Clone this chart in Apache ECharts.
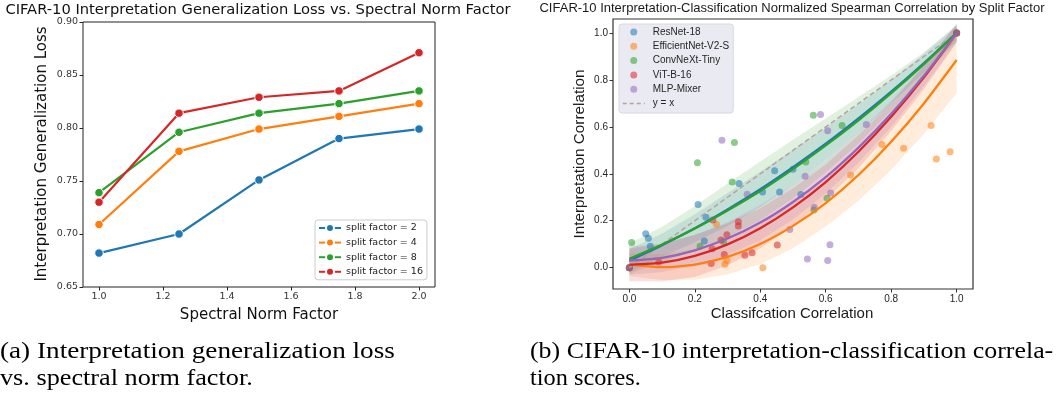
<!DOCTYPE html>
<html><head><meta charset="utf-8">
<script src="https://cdn.jsdelivr.net/npm/echarts@6/dist/echarts.min.js"></script>
<style>html,body{margin:0;padding:0;background:#fff;}#c{width:1058px;height:400px;}</style>
</head><body><div id="c"></div>
<script>
// ---------- (a) left chart data ----------
const spectralFactors = [1.0, 1.25, 1.5, 1.75, 2.0];
const lossSplit2  = [0.682, 0.700, 0.751, 0.790, 0.799];
const lossSplit4  = [0.709, 0.778, 0.799, 0.811, 0.823];
const lossSplit8  = [0.739, 0.796, 0.814, 0.823, 0.835];
const lossSplit16 = [0.730, 0.814, 0.829, 0.835, 0.871];
const leftXTicks = [1.0, 1.2, 1.4, 1.6, 1.8, 2.0];
const leftYTicks = [0.65, 0.70, 0.75, 0.80, 0.85, 0.90];

// ---------- (b) right chart data ----------
const resnetPts = [[0,0],[0.05,0.145],[0.058,0.125],[0.064,0.091],[0.21,0.269],[0.234,0.215],[0.229,0.114],[0.335,0.359],[0.407,0.322],[0.444,0.413],[0.459,0.322],[0.5,0.42],[0.524,0.312],[1,1]];
const effnetPts = [[0,0],[0.266,0.185],[0.292,0.015],[0.298,0.03],[0.408,0.0],[0.676,0.395],[0.772,0.525],[0.838,0.509],[0.922,0.606],[0.938,0.463],[0.98,0.494],[1,1]];
const convnextPts = [[0,0],[0.007,0.107],[0.208,0.447],[0.216,0.091],[0.288,0.11],[0.314,0.365],[0.321,0.533],[0.539,0.45],[0.562,0.65],[0.564,0.246],[0.604,0.296],[0.65,0.606],[1,1]];
const vitPts = [[0,0],[0.09,0.024],[0.25,0.018],[0.253,0.081],[0.255,0.203],[0.28,0.118],[0.29,0.056],[0.298,0.14],[0.333,0.196],[0.333,0.178],[0.353,0.053],[0.375,0.063],[0.452,0.097],[1,1]];
const mlpPts = [[0,0],[0.283,0.543],[0.36,0.313],[0.49,0.163],[0.537,0.39],[0.544,0.037],[0.565,0.257],[0.584,0.653],[0.606,0.584],[0.606,0.031],[0.613,0.098],[0.615,0.318],[0.724,0.61],[1,1]];

const fitX = [0,0.1,0.2,0.3,0.4,0.5,0.6,0.7,0.8,0.9,1.0];
const resnetFit = [0.030,0.096,0.168,0.248,0.334,0.428,0.528,0.636,0.750,0.872,1.000];
const resnetHi  = [0.080,0.146,0.228,0.318,0.409,0.503,0.598,0.696,0.800,0.912,1.030];
const resnetLo  = [-0.020,0.046,0.108,0.178,0.259,0.353,0.458,0.576,0.700,0.832,0.970];
const effnetFit = [0.013,0.002,0.013,0.046,0.101,0.178,0.275,0.395,0.537,0.700,0.885];
const effnetHi  = [0.063,0.057,0.078,0.121,0.186,0.273,0.375,0.505,0.657,0.830,1.025];
const effnetLo  = [-0.037,-0.053,-0.052,-0.029,0.016,0.083,0.175,0.285,0.417,0.570,0.745];
const convnextFit = [0.038,0.099,0.167,0.244,0.327,0.420,0.521,0.628,0.744,0.868,1.000];
const convnextHi  = [0.103,0.174,0.262,0.359,0.452,0.545,0.636,0.728,0.819,0.918,1.035];
const convnextLo  = [-0.027,0.024,0.072,0.129,0.202,0.295,0.406,0.528,0.669,0.818,0.965];
const vitFit = [0.012,0.021,0.050,0.099,0.168,0.257,0.365,0.494,0.643,0.811,1.000];
const vitHi  = [0.082,0.101,0.140,0.189,0.253,0.337,0.440,0.564,0.703,0.861,1.040];
const vitLo  = [-0.058,-0.059,-0.040,0.009,0.083,0.177,0.290,0.424,0.583,0.761,0.960];
const mlpFit = [0.030,0.042,0.074,0.124,0.192,0.280,0.386,0.512,0.656,0.818,1.000];
const mlpHi  = [0.090,0.102,0.139,0.194,0.267,0.355,0.456,0.577,0.711,0.863,1.040];
const mlpLo  = [-0.030,-0.018,0.009,0.054,0.117,0.205,0.316,0.447,0.601,0.773,0.960];
const identityX = [0, 1];
const identityY = [0, 1];
const rightTicks = [0.0, 0.2, 0.4, 0.6, 0.8, 1.0];

const C = {blue:'#1f77b4', orange:'#ff7f0e', green:'#2ca02c', red:'#d62728', purple:'#9467bd'};
const LF = 'DejaVu Sans';
const RF = 'Liberation Sans';

const zip = (xs, ys) => xs.map((x, i) => [x, ys[i]]);

const leftSeries = [
  ['split factor = 2', lossSplit2, C.blue],
  ['split factor = 4', lossSplit4, C.orange],
  ['split factor = 8', lossSplit8, C.green],
  ['split factor = 16', lossSplit16, C.red]
].map(([name, ys, color]) => ({
  name, type:'line', xAxisIndex:0, yAxisIndex:0,
  data: zip(spectralFactors, ys),
  symbol:'circle', symbolSize:8.5, showSymbol:true,
  lineStyle:{width:2.2, color},
  itemStyle:{color, borderColor:'#fff', borderWidth:1},
  emphasis:{disabled:true}, animation:false
}));

function band(name, lo, hi, color) {
  return {
    name, type:'custom', xAxisIndex:1, yAxisIndex:1, silent:true, animation:false,
    data:[[0.5, 0.5]],
    renderItem: function (params, api) {
      const pts = [];
      for (let i = 0; i < fitX.length; i++) pts.push(api.coord([fitX[i], hi[i]]));
      for (let i = fitX.length - 1; i >= 0; i--) pts.push(api.coord([fitX[i], lo[i]]));
      return {type:'polygon', shape:{points:pts}, style:{fill:color, opacity:0.15}};
    }
  };
}

const models = [
  ['ResNet-18', resnetPts, resnetFit, resnetLo, resnetHi, C.blue],
  ['EfficientNet-V2-S', effnetPts, effnetFit, effnetLo, effnetHi, C.orange],
  ['ConvNeXt-Tiny', convnextPts, convnextFit, convnextLo, convnextHi, C.green],
  ['ViT-B-16', vitPts, vitFit, vitLo, vitHi, C.red],
  ['MLP-Mixer', mlpPts, mlpFit, mlpLo, mlpHi, C.purple]
];

const rightSeries = [{
  name:'y = x', type:'line', xAxisIndex:1, yAxisIndex:1,
  data: zip(identityX, identityY), symbol:'none',
  lineStyle:{type:[5,3], width:1.5, color:'#b9a1a1'}, itemStyle:{color:'#b9a1a1'},
  silent:true, animation:false
}];
models.forEach(([name, pts, fit, lo, hi, color]) => {
  rightSeries.push({
    name, type:'scatter', xAxisIndex:1, yAxisIndex:1, data: pts,
    symbol:'circle', symbolSize:7, itemStyle:{color, opacity:0.55},
    silent:true, animation:false
  });
  rightSeries.push({
    name: name + ' fit', type:'line', xAxisIndex:1, yAxisIndex:1,
    data: zip(fitX, fit), symbol:'none', smooth:0.2,
    lineStyle:{width:2.3, color}, silent:true, animation:false
  });
  rightSeries.push(band(name + ' ci', lo, hi, color));
});

function txt(x, y, text, font, fill, align, rot, sx) {
  return {type:'text', x, y, rotation:rot || 0, scaleX: sx || 1,
    style:{text, font, fill, align, verticalAlign:'middle', textAlign:align, textVerticalAlign:'middle'}};
}

const chart = echarts.init(document.getElementById('c'), null, {renderer:'canvas'});
chart.setOption({
  animation:false,
  backgroundColor:'#ffffff',
  grid:[
    {left:83, top:22, width:352, height:265, show:true, borderColor:'#222', borderWidth:1, backgroundColor:'transparent'},
    {left:613, top:19, width:360, height:270, show:true, borderColor:'#333', borderWidth:1.2, backgroundColor:'transparent'}
  ],
  xAxis:[
    {gridIndex:0, type:'value', min:0.95, max:2.05, splitLine:{show:false}, axisLine:{show:false, onZero:false},
     axisTick:{show:true, customValues:leftXTicks, length:3.5, lineStyle:{color:'#222'}},
     axisLabel:{customValues:leftXTicks, formatter:v=>v.toFixed(1), fontFamily:LF, fontSize:9.5, color:'#333', margin:5}},
    {gridIndex:1, type:'value', min:-0.05, max:1.05, splitLine:{show:false}, axisLine:{show:false, onZero:false},
     axisTick:{show:true, customValues:rightTicks, length:3.5, lineStyle:{color:'#333'}},
     axisLabel:{customValues:rightTicks, formatter:v=>v.toFixed(1), fontFamily:RF, fontSize:10, color:'#262626', margin:5}}
  ],
  yAxis:[
    {gridIndex:0, type:'value', min:0.65, max:0.90, splitLine:{show:false}, axisLine:{show:false, onZero:false},
     axisTick:{show:true, customValues:leftYTicks, length:3.5, lineStyle:{color:'#222'}},
     axisLabel:{customValues:leftYTicks, formatter:v=>v.toFixed(2), fontFamily:LF, fontSize:9.5, color:'#333', margin:5}},
    {gridIndex:1, type:'value', min:-0.091, max:1.06, splitLine:{show:false}, axisLine:{show:false, onZero:false},
     axisTick:{show:true, customValues:rightTicks, length:3.5, lineStyle:{color:'#333'}},
     axisLabel:{customValues:rightTicks, formatter:v=>v.toFixed(1), fontFamily:RF, fontSize:10, color:'#262626', margin:5}}
  ],
  legend:[
    {left:315, top:220, orient:'vertical', itemWidth:22, itemHeight:10, itemGap:4.6,
     padding:[3,4,3,3], backgroundColor:'rgba(255,255,255,0.8)', borderColor:'#cccccc', borderWidth:1, borderRadius:3,
     textStyle:{fontFamily:LF, fontSize:9.5, color:'#222'},
     data:['split factor = 2','split factor = 4','split factor = 8','split factor = 16'],
     selectedMode:false},
    {left:619, top:24, orient:'vertical', itemWidth:22, itemHeight:7, itemGap:4.3,
     padding:[3,4,4.5,3], backgroundColor:'#eaeaf2', borderColor:'#d8d8e0', borderWidth:1, borderRadius:3,
     textStyle:{fontFamily:RF, fontSize:10, color:'#262626', padding:[0,0,0,3]},
     data: models.map(m => ({name:m[0], icon:'circle', itemStyle:{color:m[5], opacity:0.55}}))
       .concat([{name:'y = x', itemStyle:{opacity:0}, lineStyle:{type:[4,3], width:1.5, color:'#b9a1a1'}}]),
     selectedMode:false}
  ],
  graphic:[
    txt(258, 10, 'CIFAR-10 Interpretation Generalization Loss vs. Spectral Norm Factor', '14.7px "DejaVu Sans"', '#111', 'center'),
    txt(42, 154, 'Interpretation Generalization Loss', '15px "DejaVu Sans"', '#111', 'center', Math.PI/2),
    txt(259, 315, 'Spectral Norm Factor', '15px "DejaVu Sans"', '#111', 'center'),
    txt(792, 8, 'CIFAR-10 Interpretation-Classification Normalized Spearman Correlation by Split Factor', '13px "Liberation Sans"', '#1a1a1a', 'center'),
    txt(580, 154, 'Interpretation Correlation', '15.3px "Liberation Sans"', '#1a1a1a', 'center', Math.PI/2),
    txt(792, 314, 'Classifcation Correlation', '15px "Liberation Sans"', '#1a1a1a', 'center'),
    txt(0, 352, '(a) Interpretation generalization loss', '24px "Liberation Serif"', '#000', 'left', 0, 1.133),
    txt(0, 379, 'vs. spectral norm factor.', '24px "Liberation Serif"', '#000', 'left', 0, 1.093),
    txt(530, 352, '(b) CIFAR-10 interpretation-classification correla-', '24px "Liberation Serif"', '#000', 'left', 0, 1.078),
    txt(530, 379, 'tion scores.', '24px "Liberation Serif"', '#000', 'left', 0, 1.014)
  ],
  series: leftSeries.concat(rightSeries)
});
</script>
</body></html>
